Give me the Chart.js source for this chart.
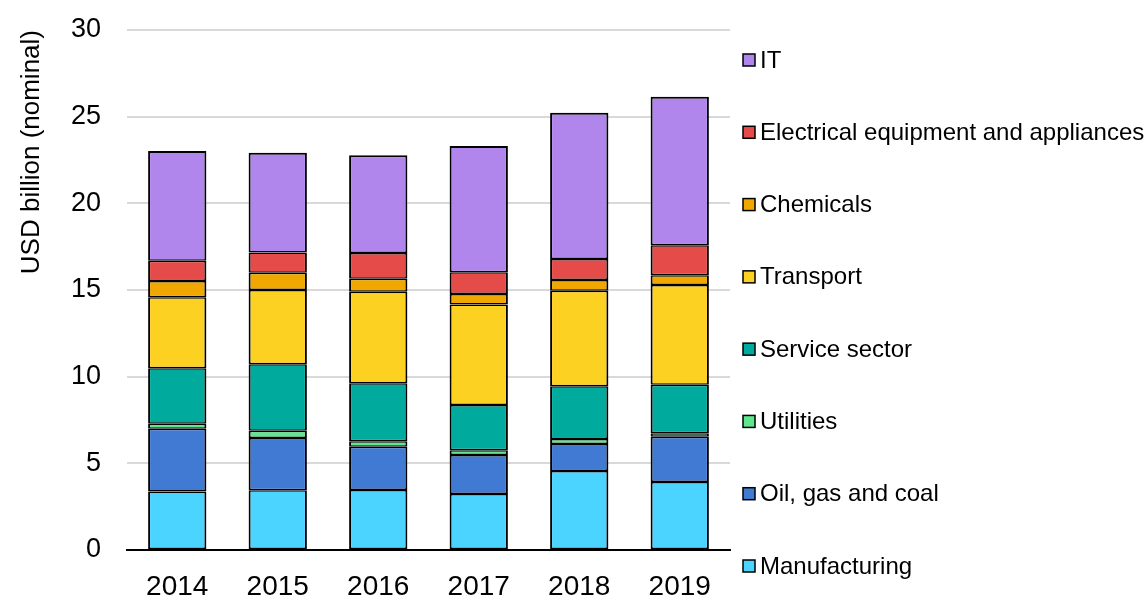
<!DOCTYPE html>
<html>
<head>
<meta charset="utf-8">
<script src="https://cdn.jsdelivr.net/npm/chart.js@4/dist/chart.umd.min.js"></script>
<style>
  body { margin: 0; background: #fff; }
  #wrap { width: 1147px; height: 601px; position: relative; }
</style>
</head>
<body>
<div id="wrap"><canvas id="chart"></canvas></div>
<script>
// years on the x axis
var years = ['2014', '2015', '2016', '2017', '2018', '2019']

// USD billion per sector, bottom of the stack first
var manufacturing = [3.37, 3.44, 3.46, 3.23, 4.56, 3.92]
var oilGasCoal    = [3.63, 3.02, 2.50, 2.25, 1.56, 2.62]
var utilities     = [0.29, 0.42, 0.31, 0.27, 0.28, 0.19]
var serviceSector = [3.19, 3.83, 3.35, 2.62, 3.04, 2.81]
var transport     = [4.10, 4.29, 5.28, 5.80, 5.52, 5.75]
var chemicals     = [0.94, 1.00, 0.75, 0.60, 0.62, 0.56]
var electrical    = [1.17, 1.17, 1.48, 1.25, 1.21, 1.73]
var it            = [6.33, 5.75, 5.64, 7.29, 8.44, 8.57]

var yTicks = [0, 5, 10, 15, 20, 25, 30]

var fontFamily = '"Liberation Sans", Arial, sans-serif'

function ds(label, data, color, topWidth) {
  return {
    label: label,
    data: data,
    backgroundColor: color,
    borderColor: '#000',
    borderWidth: { left: 2, right: 2, top: topWidth || 1.5, bottom: 1.5 },
    borderSkipped: false,
    barPercentage: 0.58,
    categoryPercentage: 1.0
  }
}

var datasets = [
  ds('Manufacturing', manufacturing, '#4ad4ff'),
  ds('Oil, gas and coal', oilGasCoal, '#407ad2'),
  ds('Utilities', utilities, '#60e68c'),
  ds('Service sector', serviceSector, '#00ab9e'),
  ds('Transport', transport, '#fdd122'),
  ds('Chemicals', chemicals, '#f0a800'),
  ds('Electrical equipment and appliances', electrical, '#e44b49'),
  ds('IT', it, '#b086ec', 2)
]

// legend on the right, drawn by hand so the spacing matches
var sideLegend = {
  id: 'sideLegend',
  afterDraw: function(chart) {
    var ctx = chart.ctx
    var area = chart.chartArea
    var items = chart.data.datasets.slice().reverse()
    var top = area.top + 30
    var step = (area.bottom + 16 - top) / (items.length - 1)
    var x = area.right + 13
    ctx.save()
    ctx.font = '24px ' + fontFamily
    ctx.textBaseline = 'middle'
    ctx.textAlign = 'left'
    for (var i = 0; i < items.length; i++) {
      var y = top + i * step
      ctx.fillStyle = items[i].backgroundColor
      ctx.fillRect(x, y - 6, 12, 12)
      ctx.strokeStyle = '#000'
      ctx.lineWidth = 1.5
      ctx.strokeRect(x, y - 6, 12, 12)
      ctx.fillStyle = '#000'
      ctx.fillText(items[i].label, x + 17, y + 1)
    }
    ctx.restore()
  }
}

new Chart(document.getElementById('chart'), {
  type: 'bar',
  data: { labels: years, datasets: datasets },
  plugins: [sideLegend],
  options: {
    responsive: true,
    maintainAspectRatio: false,
    animation: false,
    layout: { padding: { top: 0, right: 417, left: 0, bottom: 0 } },
    plugins: {
      legend: { display: false },
      tooltip: { enabled: false }
    },
    scales: {
      x: {
        stacked: true,
        grid: { display: false, drawTicks: false },
        border: { display: true, color: '#000', width: 2 },
        ticks: { color: '#000', padding: 20, font: { family: fontFamily, size: 28 } },
        afterFit: function(scale) { scale.height = 51 }
      },
      y: {
        stacked: true,
        min: 0,
        max: 30,
        afterBuildTicks: function(scale) {
          scale.ticks = yTicks.map(function(v) { return { value: v } })
        },
        grid: { color: '#d9d9d9', lineWidth: 2, drawTicks: false },
        border: { display: false },
        ticks: { color: '#000', padding: 26, font: { family: fontFamily, size: 27 } },
        title: {
          display: true,
          text: 'USD billion (nominal)',
          align: 'end',
          color: '#000',
          padding: { top: 16, bottom: 0 },
          font: { family: fontFamily, size: 26 }
        },
        afterFit: function(scale) {
          scale.width = 127
          scale.paddingTop = 30
          scale.paddingBottom = 0
        }
      }
    }
  }
})
</script>
</body>
</html>
